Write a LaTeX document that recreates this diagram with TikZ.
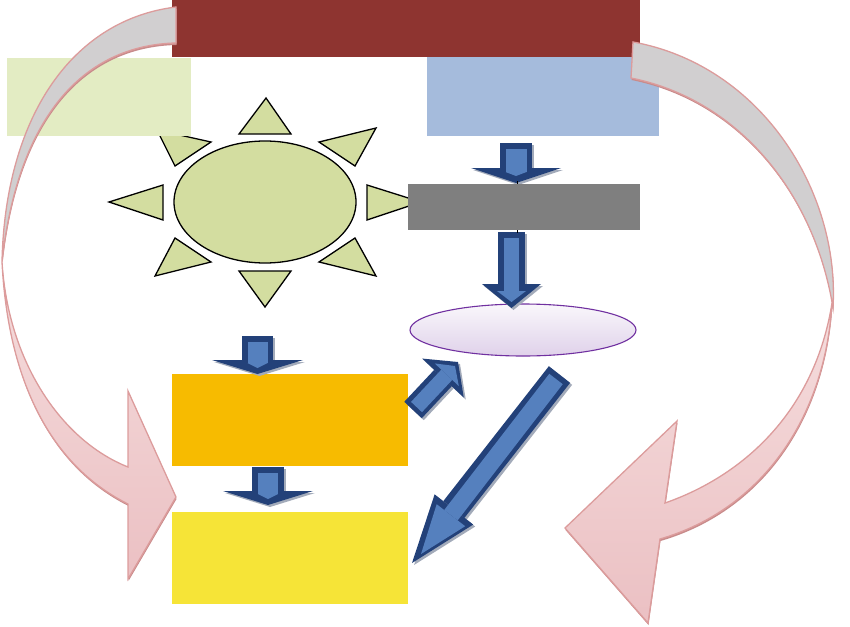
\documentclass[tikz,border=0pt]{standalone}
\usetikzlibrary{arrows.meta,shapes.geometric}
\definecolor{topred}{HTML}{8E3430}
\definecolor{palegreen}{HTML}{E3ECC3}
\definecolor{sungreen}{HTML}{D3DDA0}
\definecolor{paleblue}{HTML}{A5BBDC}
\definecolor{midgray}{HTML}{7F7F7F}
\definecolor{boxorange}{HTML}{F7BB00}
\definecolor{boxyellow}{HTML}{F6E437}
\definecolor{ovalpurple}{HTML}{7030A0}
\definecolor{arrowdark}{HTML}{234179}
\definecolor{arrowblue}{HTML}{5580BE}
\definecolor{shadowgray}{HTML}{A3ABBA}
\definecolor{curvegray}{HTML}{D1CFD0}
\definecolor{curveline}{HTML}{DC9C9C}
\definecolor{curveshade}{HTML}{C88B8B}
\definecolor{curvetop}{HTML}{F5DDDD}
\definecolor{curvebottom}{HTML}{EBC0C3}
\tikzset{
    box/.style={inner sep=0pt,outer sep=0pt},
    ray/.style={draw=black,fill=sungreen,line width=1.3pt},
    blockout/.style n args={3}{draw=arrowdark,line width=#1pt,
        -{Triangle[length=#2pt,width=#3pt,line width=0pt]},
        preaction={draw=shadowgray,line width=#1pt,
            -{Triangle[length=#2pt,width=#3pt,line width=0pt]},
            transform canvas={shift={(2pt,-2pt)}}}},
    blockin/.style n args={3}{draw=arrowblue,line width=#1pt,
        -{Triangle[length=#2pt,width=#3pt,line width=0pt]}},
    curveback/.style={draw=curveline,line width=1.3pt,fill=curvegray,
        preaction={fill=curveshade,transform canvas={shift={(0.5pt,-2pt)}}}},
    curvefront/.style={draw=curveline,line width=1.3pt,top color=curvetop,bottom color=curvebottom,
        preaction={fill=curveshade,transform canvas={shift={(0.5pt,-2pt)}}}}
}
\begin{document}
\begin{tikzpicture}[x=1pt,y=-1pt]
    \useasboundingbox (0,0) rectangle (850,626);
    \foreach \ax/\ay/\bx/\by/\cx/\cy in {266/98/239/134/291/134,239/271/291/271/265/307,
        109/202/163/185/163/220,367/185/367/220/421/202,
        175/166/211/142/157/130,175/238/211/262/155/276,
        355/166/319/142/376/128,355/238/319/262/376/276} {
        \draw[ray] (\ax,\ay) -- (\bx,\by) -- (\cx,\cy) -- cycle;
    }
    \node[ellipse,draw=black,fill=sungreen,line width=1.3pt,inner sep=0pt,minimum width=182pt,minimum height=122pt] (sun) at (265,202) {};
    \node[box,fill=palegreen,minimum width=184pt,minimum height=78pt] (greenbox) at (99,97) {};
    \node[box,fill=paleblue,minimum width=232pt,minimum height=79pt] (bluebox) at (543,96.5) {};
    \node[box,fill=topred,minimum width=468pt,minimum height=57pt] (topbox) at (406,28.5) {};
    \node[box,fill=boxorange,minimum width=236pt,minimum height=92pt] (orangebox) at (290,420) {};
    \node[box,fill=boxyellow,minimum width=236pt,minimum height=92pt] (yellowbox) at (290,558) {};
    \node[ellipse,draw=ovalpurple,line width=1.1pt,top color=ovalpurple!4,bottom color=ovalpurple!22,inner sep=0pt,minimum width=226pt,minimum height=52pt] (oval) at (523,330) {};

    \coordinate (blueout) at (516,143);
    \coordinate (grayin) at (516,183);
    \coordinate (blueinner) at (516,149);
    \coordinate (grayinner) at (516,176);
    \coordinate (grayout) at (511.5,232);
    \coordinate (ovalin) at (511.5,308);
    \coordinate (grayinnerb) at (511.5,238);
    \coordinate (ovalinner) at (511.5,302);
    \coordinate (sunout) at (257.5,336);
    \coordinate (orangein) at (257.5,374);
    \coordinate (suninner) at (257.5,342);
    \coordinate (orangeinner) at (257.5,368);
    \coordinate (orangeout) at (268,467);
    \coordinate (yellowin) at (268,505);
    \coordinate (orangeinnerb) at (268,473);
    \coordinate (yellowinner) at (268,499);
    \coordinate (orangeside) at (413,410);
    \coordinate (ovalleft) at (458,362);
    \coordinate (orangesideb) at (416.5,407);
    \coordinate (ovalleftb) at (455,366);
    \coordinate (ovalright) at (559.5,374.5);
    \coordinate (yellowside) at (412,563);
    \coordinate (ovalrightb) at (556,379);
    \coordinate (yellowsideb) at (421,554);

    \draw[blockout={32}{15}{90}] (blueout) -- (grayin);
    \draw[blockin={21}{4}{21}] (blueinner) -- (grayinner);
    \draw[blockout={27}{24}{59}] (grayout) -- (ovalin);
    \draw[blockin={15}{11}{29}] (grayinnerb) -- (ovalinner);
    \draw[blockout={31}{14}{91}] (sunout) -- (orangein);
    \draw[blockin={20}{5}{20}] (suninner) -- (orangeinner);
    \draw[blockout={32}{14}{90}] (orangeout) -- (yellowin);
    \draw[blockin={20}{5}{20}] (orangeinnerb) -- (yellowinner);
    \draw[blockout={24}{22}{57}] (orangeside) -- (ovalleft);
    \draw[blockin={15}{12}{33}] (orangesideb) -- (ovalleftb);
    \draw[blockout={27}{68}{49}] (ovalright) -- (yellowside);
    \draw[blockin={17}{49}{36}] (ovalrightb) -- (yellowsideb);

    \coordinate (graytop) at (517,181);
    \coordinate (graybottom) at (517,233);
    \draw[line width=1pt] (graytop) -- (graybottom);
    \node[box,fill=midgray,minimum width=232pt,minimum height=46pt] (graybox) at (524,207) {};

    \draw[curveback] (176,7) .. controls (70,20) and (5,120) .. (2,262)
        .. controls (18,115) and (85,45) .. (176,43) -- cycle;
    \draw[curvefront] (2,262) .. controls (8,360) and (60,440) .. (128,467)
        -- (128,391) -- (176,497) -- (128,579) -- (128,504)
        .. controls (50,465) and (8,380) .. (2,262) -- cycle;

    \draw[curveback] (633,42) .. controls (760,65) and (840,190) .. (833,308)
        .. controls (815,195) and (740,100) .. (631,78) -- cycle;
    \draw[curvefront] (832,303) .. controls (815,410) and (745,475) .. (665,503)
        -- (677,421) -- (565,528) -- (648,623) -- (660,539)
        .. controls (760,510) and (825,420) .. (832,303) -- cycle;
\end{tikzpicture}
\end{document}
